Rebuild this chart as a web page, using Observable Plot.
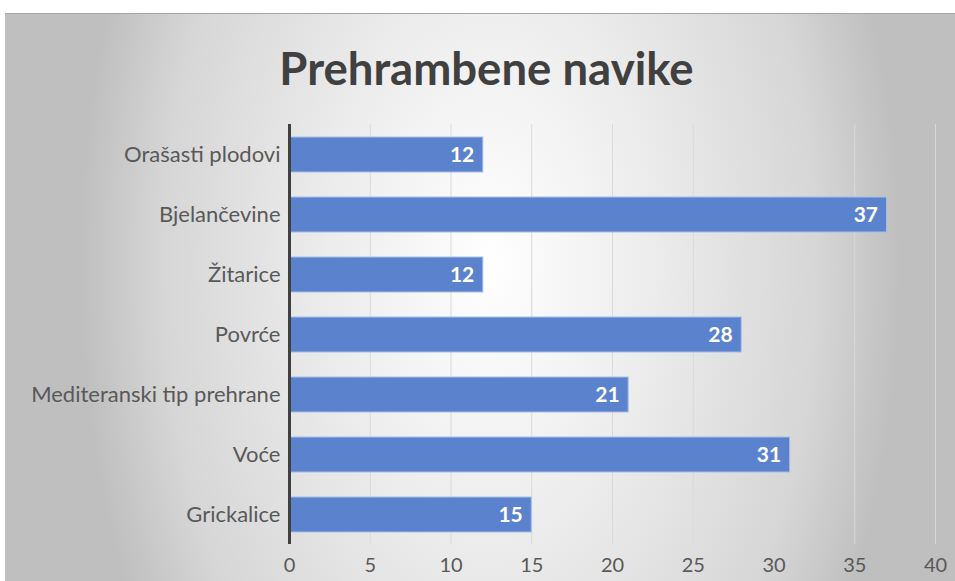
<!DOCTYPE html>
<html>
<head>
<meta charset="utf-8">
<script src="https://cdn.jsdelivr.net/npm/d3@7"></script>
<script src="https://cdn.jsdelivr.net/npm/@observablehq/plot@0.6"></script>
<style>
  html, body { margin: 0; padding: 0; background: #fff; width: 955px; height: 581px; overflow: hidden; }
  #frame {
    position: absolute; left: 5px; top: 13px; width: 950px; height: 568px;
    background: radial-gradient(ellipse 410px 700px at 485px 250px, #ffffff 0%, #ececec 40%, #d6d6d6 80%, #bfbfbf 100%);
    border-top: 1px solid #a6a6a6;
    box-sizing: border-box;
  }
  #title {
    height: 99px; margin: 0; text-align: center;
    font-family: Lato, sans-serif; font-weight: 700; font-size: 45.5px; color: #404040;
    line-height: 45px; padding-top: 31px; padding-left: 13px; box-sizing: border-box;
  }
  #chart svg { display: block; }
</style>
</head>
<body>
<div id="frame">
  <div id="title">Prehrambene navike</div>
  <div id="chart"></div>
</div>
<script>
const categories = ["Orašasti plodovi", "Bjelančevine", "Žitarice", "Povrće", "Mediteranski tip prehrane", "Voće", "Grickalice"];
const values = [12, 37, 12, 28, 21, 31, 15];
const xTicks = [0, 5, 10, 15, 20, 25, 30, 35, 40];

const data = categories.map((c, i) => ({category: c, value: values[i]}));

const plot = Plot.plot({
  width: 950,
  height: 468,
  marginTop: 11,
  marginBottom: 37,
  marginLeft: 284,
  marginRight: 20,
  style: {background: "transparent", fontFamily: "Lato, sans-serif", color: "#595959"},
  x: {domain: [0, 40], ticks: xTicks, label: null},
  y: {domain: categories, paddingInner: 0.42, paddingOuter: 0.21, label: null},
  marks: [
    Plot.gridX(xTicks, {stroke: "#d9d9d9", strokeOpacity: 1, strokeWidth: 1}),
    Plot.barX(data, {x: "value", y: "category", fill: "#5b82cc", stroke: "#a9bde6", strokeWidth: 1}),
    Plot.ruleX([0], {stroke: "#404040", strokeWidth: 3}),
    Plot.text(data, {x: "value", y: "category", text: d => String(d.value), textAnchor: "end", dx: -9, fill: "#ffffff", fontWeight: "bold", fontSize: 21}),
    Plot.axisX({ticks: xTicks, tickSize: 0, tickPadding: 13, fontSize: 20, fill: "#595959", label: null}),
    Plot.axisY({tickSize: 0, tickPadding: 9, fontSize: 22, fill: "#595959", label: null})
  ]
});
document.getElementById("chart").appendChild(plot);
</script>
</body>
</html>
